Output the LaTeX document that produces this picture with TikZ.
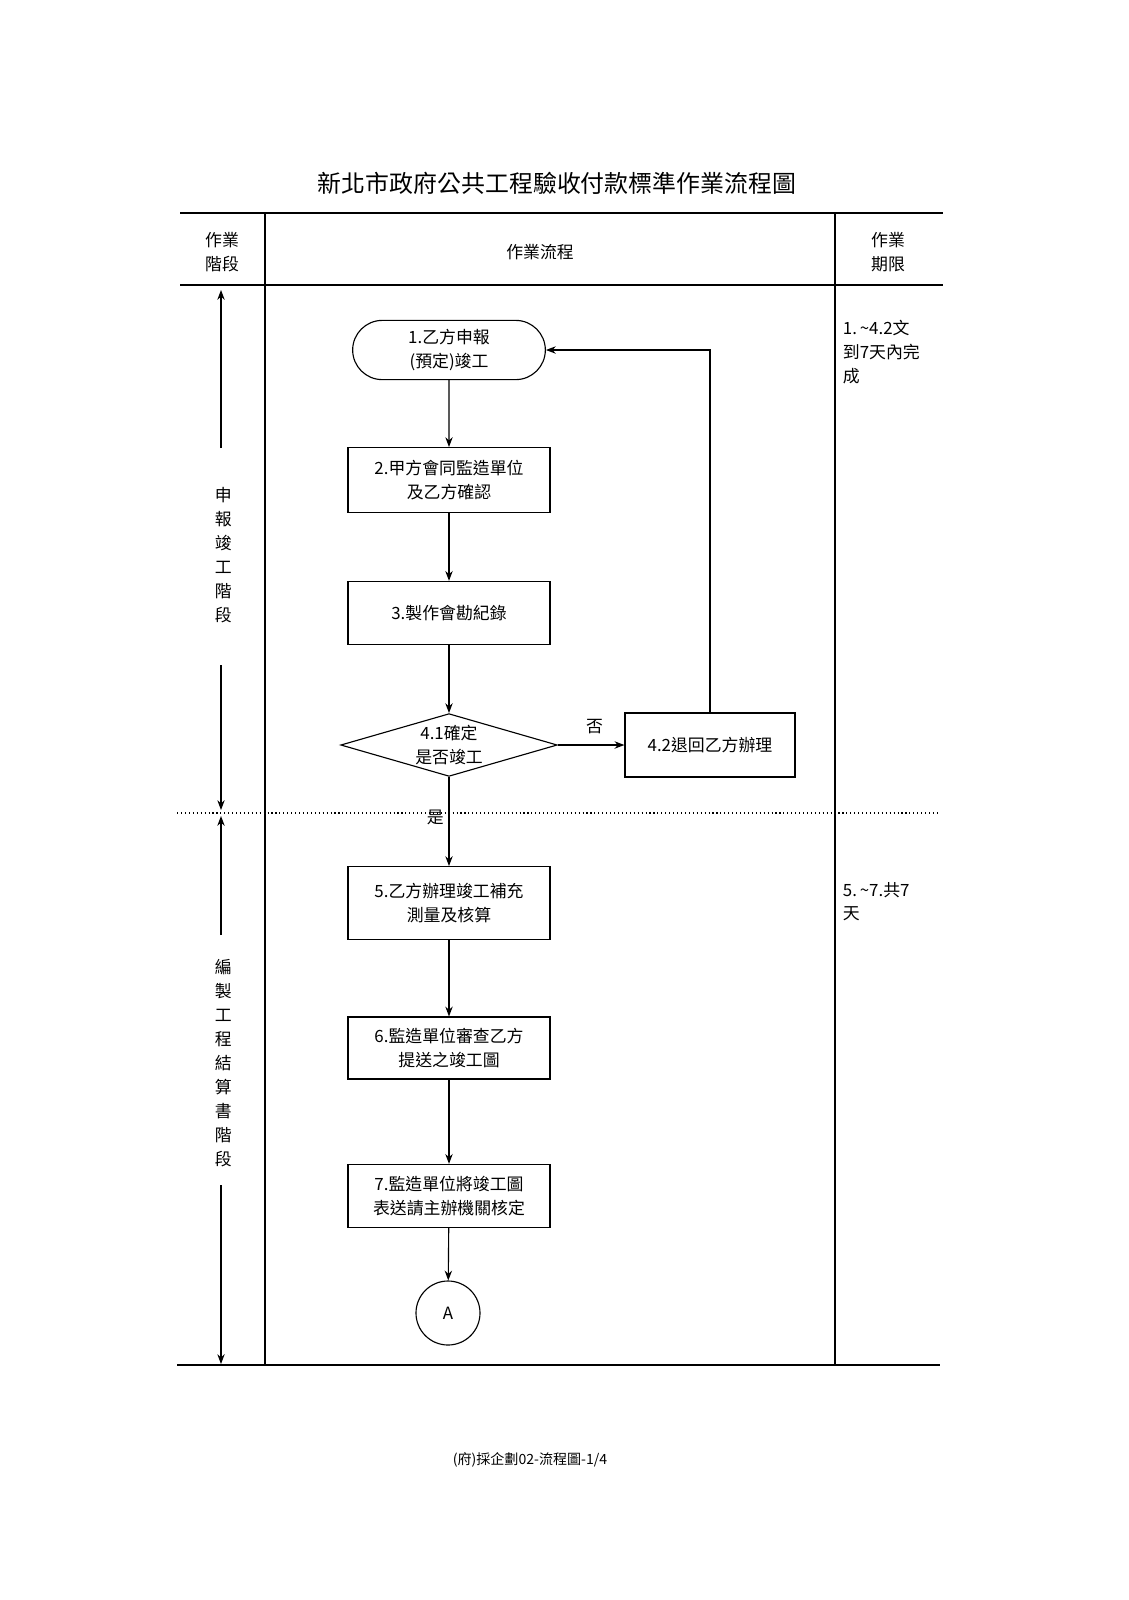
\documentclass[tikz,border=0pt]{standalone}
\usepackage{fontspec}
\setmainfont{Noto Sans CJK TC}
\usetikzlibrary{shapes.geometric,shapes.misc,arrows.meta}
\begin{document}
\begin{tikzpicture}[x=0.025cm,y=-0.025cm,
  t/.style={font=\fontsize{12}{17}\selectfont,align=center},
  box/.style={draw,thick,minimum width=5.05cm,t},
  ar/.style={-{Stealth[length=7pt]},thick},
  ln/.style={line width=1pt}]
\useasboundingbox (0,0) rectangle (1129,1600);
\node[font=\fontsize{17}{20}\selectfont] (title) at (557,183) {新北市政府公共工程驗收付款標準作業流程圖};
\draw[ln] (180,213) -- (943,213);
\draw[ln] (180,285) -- (943,285);
\draw[ln] (177,1365) -- (940,1365);
\draw[ln] (265,213) -- (265,1365);
\draw[ln] (835,213) -- (835,1365);
\draw[dotted,thick] (177,813) -- (940,813);
\node[t] (h1) at (222,252) {作業\\階段};
\node[t] (h2) at (540,252) {作業流程};
\node[t] (h3) at (888,252) {作業\\期限};
% left stage arrows
\node[t,text width=1em] (s1) at (222,555) {申\\報\\竣\\工\\階\\段};
\coordinate (s1t) at (221,290); \coordinate (s1b) at (221,810);
\draw[ar] (221,448) -- (s1t);
\draw[ar] (221,665) -- (s1b);
\node[t,text width=1em] (s2) at (222,1063) {編\\製\\工\\程\\結\\算\\書\\階\\段};
\coordinate (s2t) at (221,816); \coordinate (s2b) at (221,1364);
\draw[ar] (221,935) -- (s2t);
\draw[ar] (221,1185) -- (s2b);
% nodes
\node[draw,thick,rounded rectangle,minimum width=5.05cm,minimum height=1.48cm,t] (n1) at (449,350) {1.乙方申報\\(預定)竣工};
\node[box,minimum height=1.62cm] (n2) at (449,480) {2.甲方會同監造單位\\及乙方確認};
\node[box,minimum height=1.58cm] (n3) at (449,613) {3.製作會勘紀錄};
\node[draw,thick,diamond,aspect=3.45,inner sep=1pt,minimum width=5cm,minimum height=1.45cm,t] (n41) at (449,745) {4.1確定\\是否竣工};
\node[draw,thick,minimum width=4.25cm,minimum height=1.6cm,t] (n42) at (710,745) {4.2退回乙方辦理};
\node[box,minimum height=1.82cm] (n5) at (449,903) {5.乙方辦理竣工補充\\測量及核算};
\node[box,minimum height=1.55cm] (n6) at (449,1048) {6.監造單位審查乙方\\提送之竣工圖};
\node[box,minimum height=1.58cm] (n7) at (449,1196) {7.監造單位將竣工圖\\表送請主辦機關核定};
\node[draw,thick,circle,minimum size=1.6cm,t] (A) at (448,1313) {A};
\draw[ar] (n1) -- (n2);
\draw[ar] (n2) -- (n3);
\draw[ar] (n3) -- (n41);
\draw[ar] (n41) -- node[pos=0.55,above,yshift=4pt,t]{否} (n42);
\draw[ar] (n42.north) |- (n1.east);
\draw[ar] (n41) -- node[pos=0.45,left,t]{是} (n5);
\draw[ar] (n5) -- (n6);
\draw[ar] (n6) -- (n7);
\draw[ar] (n7) -- (A);
\node[t,align=left,anchor=north west] (d1) at (838,315) {1.\,\textasciitilde4.2文\\到7天內完\\成};
\node[t,align=left,anchor=north west] (d2) at (838,877) {5.\,\textasciitilde7.共7\\天};
\node[font=\fontsize{10}{12}\selectfont] (foot) at (530,1460) {(府)採企劃02-流程圖-1/4};
\end{tikzpicture}
\end{document}
